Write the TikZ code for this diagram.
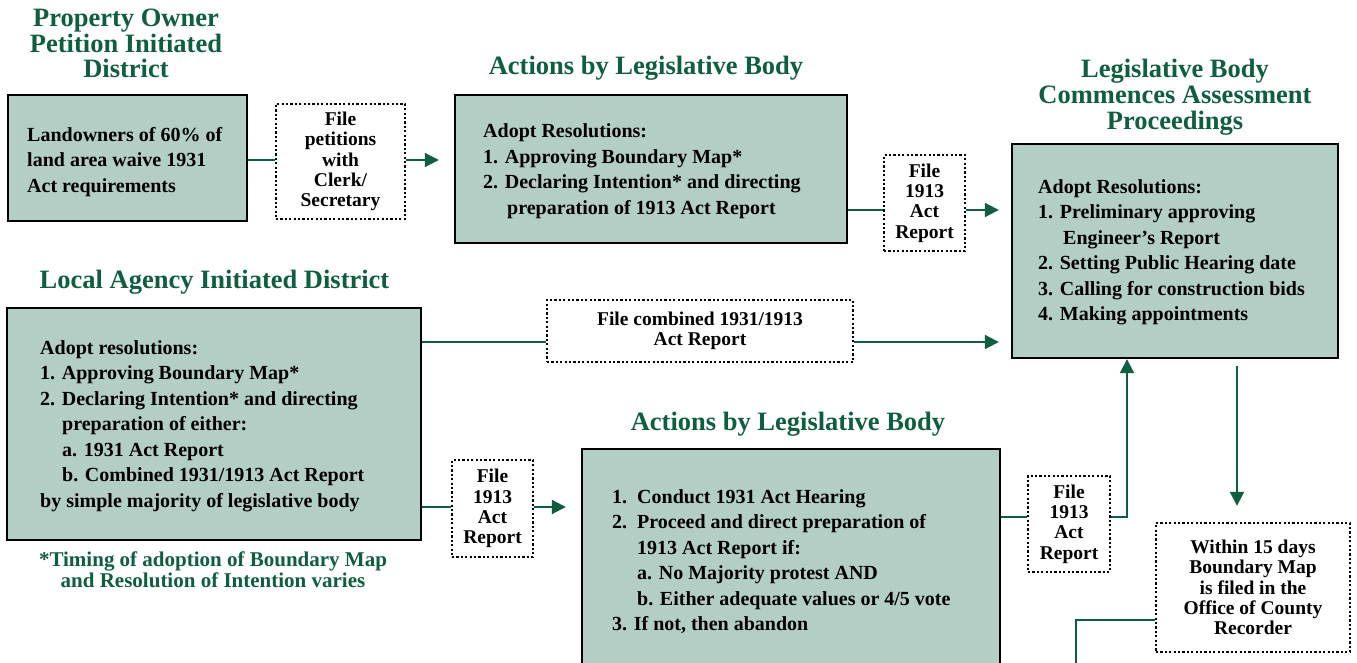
\documentclass[tikz,border=0pt]{standalone}
\usepackage{fontspec}
\setmainfont{Liberation Serif}
\usetikzlibrary{arrows.meta}
\definecolor{dg}{HTML}{0E5E3F}
\definecolor{boxfill}{HTML}{B3CEC5}
\tikzset{
 box/.style={draw=black, line width=2.4pt, fill=boxfill, inner sep=0},
 dotbox/.style={draw=black, line width=2.4pt, dash pattern=on 2.2pt off 2.2pt, fill=white, inner sep=0, align=center, font=\bfseries\fontsize{19.5}{20.3}\selectfont},
 txt/.style={align=left, inner sep=0, anchor=west, yshift=-2pt, font=\bfseries\fontsize{20}{25.5}\selectfont},
 ttl/.style={text=dg, align=center, inner sep=0, font=\bfseries\fontsize{26.5}{25.8}\selectfont},
 conn/.style={draw=dg, line width=2pt},
 arr/.style={conn, -{Triangle[length=14pt,width=14pt]}}
}
\begin{document}
\begin{tikzpicture}[x=1pt,y=-1pt]
\clip (0,0) rectangle (1357,663);
\fill[white] (0,0) rectangle (1357,663);
% titles
\node[ttl] (t1) at (126,43.5) {Property Owner\\Petition Initiated\\District};
\node[ttl] (t2) at (646,68) {Actions by Legislative Body};
\node[ttl] (t3) at (1175,97.5) {Legislative Body\\Commences Assessment\\Proceedings};
\node[ttl] (t4) at (214.5,282) {Local Agency Initiated District};
\node[ttl] (t5) at (788,424) {Actions by Legislative Body};
\node[ttl, font=\bfseries\fontsize{21}{21}\selectfont] (fn) at (213,569.5) {*Timing of adoption of Boundary Map\\and Resolution of Intention varies};
% boxes
\node[box, minimum width=239pt, minimum height=126pt] (A) at (127.5,158) {};
\node[txt] (At) at (27,160) {Landowners of 60\% of\\land area waive 1931\\Act requirements};
\node[dotbox, minimum width=129pt, minimum height=115pt] (B) at (340.5,161.5) {File\\petitions\\with\\Clerk/\\Secretary};
\node[box, minimum width=392pt, minimum height=148pt] (C) at (651,169) {};
\node[txt] (Ct) at (483,169) {Adopt Resolutions:\\1. Approving Boundary Map*\\2. Declaring Intention* and directing\\\hspace*{24pt}preparation of 1913 Act Report};
\node[dotbox, minimum width=81pt, minimum height=96pt] (D) at (924.5,203) {File\\1913\\Act\\Report};
\node[box, minimum width=326pt, minimum height=214pt] (E) at (1175,251) {};
\node[txt] (Et) at (1038,250.5) {Adopt Resolutions:\\1. Preliminary approving\\\hspace*{25pt}Engineer's Report\\2. Setting Public Hearing date\\3. Calling for construction bids\\4. Making appointments};
\node[box, minimum width=414pt, minimum height=232pt] (F) at (214,424) {};
\node[txt] (Ft) at (40,424) {Adopt resolutions:\\1. Approving Boundary Map*\\2. Declaring Intention* and directing\\\hspace*{22pt}preparation of either:\\\hspace*{22pt}a. 1931 Act Report\\\hspace*{22pt}b. Combined 1931/1913 Act Report\\by simple majority of legislative body};
\node[dotbox, minimum width=306pt, minimum height=62pt] (G) at (700,331) {File combined 1931/1913\\Act Report};
\node[dotbox, minimum width=81pt, minimum height=97pt] (H) at (492.5,508.5) {File\\1913\\Act\\Report};
\node[box, minimum width=418pt, minimum height=251pt] (I) at (791,574.5) {};
\node[txt] (It) at (612,559.5) {1.\ \ Conduct 1931 Act Hearing\\2.\ \ Proceed and direct preparation of\\\hspace*{25pt}1913 Act Report if:\\\hspace*{25pt}a. No Majority protest AND\\\hspace*{25pt}b. Either adequate values or 4/5 vote\\3. If not, then abandon};
\node[dotbox, minimum width=82pt, minimum height=96pt] (J) at (1069,524) {File\\1913\\Act\\Report};
\node[dotbox, minimum width=194pt, minimum height=129pt] (K) at (1253,587.5) {Within 15 days\\Boundary Map\\is filed in the\\Office of County\\Recorder};
% helper coordinates
\coordinate (yab) at (0,160);
\coordinate (ycd) at (0,210);
\coordinate (yfg) at (0,342);
\coordinate (yfh) at (0,507);
\coordinate (yij) at (0,517);
\coordinate (xje) at (1127,0);
\coordinate (xke) at (1237,0);
\coordinate (yk) at (0,620);
\coordinate (kout) at (1076,680);
% connectors
\draw[conn] (A.east |- yab) -- (B.west |- yab);
\draw[arr, shorten >=15pt] (B.east |- yab) -- (C.west |- yab);
\draw[conn] (C.east |- ycd) -- (D.west |- ycd);
\draw[arr, shorten >=12pt] (D.east |- ycd) -- (E.west |- ycd);
\draw[conn] (F.east |- yfg) -- (G.west |- yfg);
\draw[arr, shorten >=12pt] (G.east |- yfg) -- (E.west |- yfg);
\draw[conn] (F.east |- yfh) -- (H.west |- yfh);
\draw[arr, shorten >=15pt] (H.east |- yfh) -- (I.west |- yfh);
\draw[conn] (I.east |- yij) -- (J.west |- yij);
\draw[arr] (J.east |- yij) -| (xje |- E.south);
\draw[arr, shorten <=7pt, shorten >=16pt] (xke |- E.south) -- (xke |- K.north);
\draw[conn] (K.west |- yk) -| (kout);
\end{tikzpicture}
\end{document}
